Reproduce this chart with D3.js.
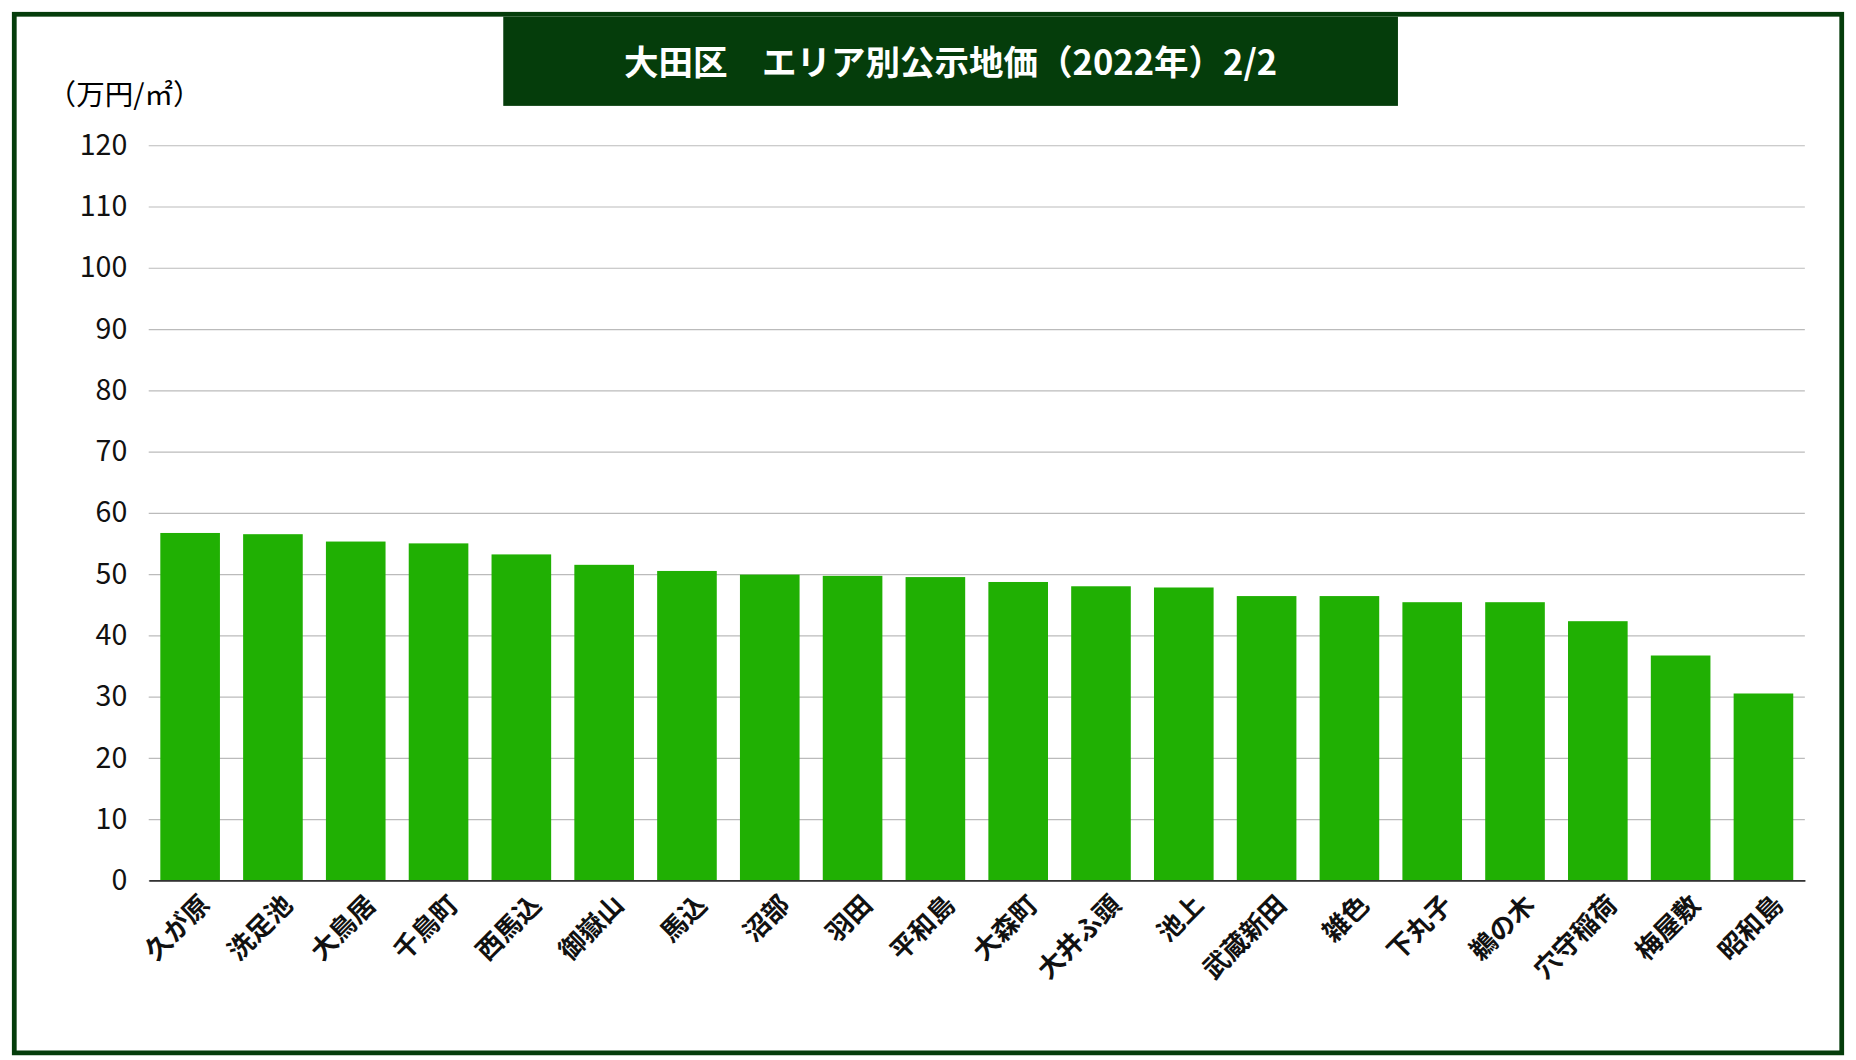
<!DOCTYPE html>
<html><head><meta charset="utf-8">
<script src="https://cdn.jsdelivr.net/npm/d3@7"></script>
<style>body{margin:0;background:#fff}</style>
</head><body><div class="chart"></div>
<script>
const areas = ['久が原','洗足池','大鳥居','千鳥町','西馬込','御嶽山','馬込','沼部','羽田','平和島','大森町','大井ふ頭','池上','武蔵新田','雑色','下丸子','鵜の木','穴守稲荷','梅屋敷','昭和島'];
const prices = [56.7,56.5,55.3,55.0,53.2,51.5,50.5,49.9,49.7,49.5,48.7,48.0,47.8,46.4,46.4,45.4,45.4,42.3,36.7,30.5];
const yTicks = [0,10,20,30,40,50,60,70,80,90,100,110,120];
const title = '大田区　エリア別公示地価（2022年）2/2';
const unit = '（万円/㎡）';

const font = '"Noto Sans CJK JP", "Noto Sans", sans-serif';
const margin = { top: 122, left: 125, bottom: 151, right: 43 };
const W = 1560, H = 891;
const width = W - margin.left - margin.right;
const height = H - margin.top - margin.bottom;

const root = d3.select('.chart').append('svg')
    .attr('width', 1856).attr('height', 1060)
    .attr('viewBox', `0 0 ${W} ${H}`)
    .attr('preserveAspectRatio', 'none');

// frame
root.append('rect').attr('x', 12).attr('y', 12).attr('width', 1536).attr('height', 873)
    .attr('fill', '#fff').attr('stroke', '#053d0b').attr('stroke-width', 4);
root.append('rect').attr('x', 423).attr('y', 14).attr('width', 752).attr('height', 75).attr('fill', '#053d0b');
root.append('text').attr('x', 799).attr('y', 63).attr('text-anchor', 'middle')
    .attr('fill', '#fff').style('font', `bold 29px ${font}`).text(title);
root.append('text').attr('x', 40).attr('y', 88)
    .style('font', `24px ${font}`).text(unit);

const svg = root.append('g').attr('transform', `translate(${margin.left},${margin.top})`);

const xScale = d3.scaleBand().domain(areas).range([0, width]).paddingInner(0.28).paddingOuter(0.14);
const yScale = d3.scaleLinear().domain([0, 120]).range([height, 0]);

const yAxis = d3.axisLeft(yScale).tickValues(yTicks).tickSizeInner(-width).tickSizeOuter(0).tickPadding(18);
const yg = svg.append('g').call(yAxis);
yg.select('.domain').remove();
yg.selectAll('.tick line').attr('stroke', '#bbb').attr('stroke-width', 1);
yg.selectAll('.tick text').style('font', `24px ${font}`).attr('fill', '#111');

svg.selectAll('.bar').data(areas).enter().append('rect')
    .attr('x', d => xScale(d)).attr('width', xScale.bandwidth())
    .attr('y', (d, i) => yScale(prices[i]))
    .attr('height', (d, i) => height - yScale(prices[i]))
    .attr('fill', '#20b003');

const xAxis = d3.axisBottom(xScale).tickSize(0).tickSizeOuter(0);
const xg = svg.append('g').attr('transform', `translate(0,${height})`).call(xAxis);
xg.select('.domain').attr('stroke', '#333').attr('stroke-width', 1.5);
xg.selectAll('.tick text')
    .style('font', `bold 22px ${font}`).attr('fill', '#111')
    .attr('text-anchor', 'end').attr('dy', 0).attr('y', 0)
    .attr('transform', 'translate(18,22) rotate(-45)');
</script></body></html>
